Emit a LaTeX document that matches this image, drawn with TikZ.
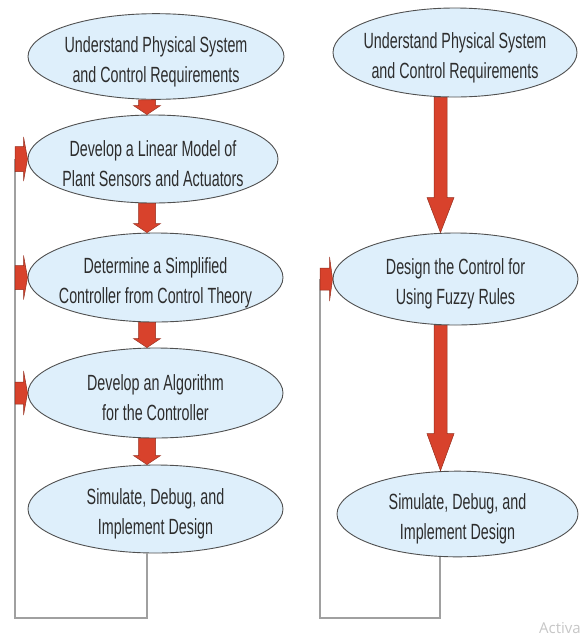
\documentclass[tikz,border=0pt]{standalone}
\usepackage{fontspec}
\setmainfont{Liberation Sans}[FakeStretch=0.65]
\newfontfamily\wmfont{Open Sans}
\usetikzlibrary{shapes.geometric,calc}
\definecolor{ellfill}{RGB}{222,239,251}
\definecolor{ellline}{RGB}{80,80,80}
\definecolor{arrred}{RGB}{216,66,44}
\definecolor{arrdark}{RGB}{150,45,28}
\definecolor{loopgray}{RGB}{160,160,160}
\definecolor{txtgray}{RGB}{45,45,45}
\newcommand{\twol}[2]{\makebox[0pt]{\rule{0pt}{26pt}#1}\\\makebox[0pt]{#2}}
% vertical block arrow: start, tip, shaft half width, head half width, head length
\newcommand{\dnblk}[5]{%
  \filldraw[blk] let \p1=(#1), \p2=(#2) in
    (\x1-#3,\y1) -- (\x1+#3,\y1) -- (\x1+#3,\y2+#5) -- (\x1+#4,\y2+#5) --
    (\x1,\y2) -- (\x1-#4,\y2+#5) -- (\x1-#3,\y2+#5) -- cycle;}
% horizontal block arrow: start, tip, shaft half height, head half height, head length
\newcommand{\rtblk}[5]{%
  \filldraw[blk] let \p1=(#1), \p2=(#2) in
    (\x1,\y2+#3) -- (\x2-#5,\y2+#3) -- (\x2-#5,\y2+#4) -- (\x2,\y2) --
    (\x2-#5,\y2-#4) -- (\x2-#5,\y2-#3) -- (\x1,\y2-#3) -- cycle;}
\begin{document}
\begin{tikzpicture}[x=1pt,y=1pt,
  ellbox/.style={ellipse, draw=ellline, fill=ellfill, line width=0.9pt,
    inner sep=0pt, align=center, text=txtgray,
    font=\fontsize{22}{30}\selectfont},
  blk/.style={fill=arrred, draw=arrdark, line width=0.5pt},
  loopline/.style={draw=loopgray, line width=1.4pt}]
\path[use as bounding box] (0,0) rectangle (582,-638);
\clip (0,0) rectangle (582,-638);
\fill[white] (0,0) rectangle (582,-638);

% left column
\node[ellbox, minimum width=256pt, minimum height=78pt] (e1) at (156,-56.5)
  {\twol{Understand Physical System}{and Control Requirements}};
\node[ellbox, minimum width=250pt, minimum height=88pt] (e2) at (153,-159)
  {\twol{Develop a Linear Model of}{Plant Sensors and Actuators}};
\node[ellbox, minimum width=255pt, minimum height=89pt] (e3) at (155.5,-277.5)
  {\twol{Determine a Simplified}{Controller from Control Theory}};
\node[ellbox, minimum width=255pt, minimum height=90pt] (e4) at (155.5,-393)
  {\twol{Develop an Algorithm}{for the Controller}};
\node[ellbox, minimum width=255pt, minimum height=88pt] (e5) at (155.5,-509)
  {\twol{Simulate, Debug, and}{Implement Design}};

% right column
\node[ellbox, minimum width=244pt, minimum height=89pt] (e6) at (455,-52.5)
  {\twol{Understand Physical System}{and Control Requirements}};
\node[ellbox, minimum width=245pt, minimum height=92pt] (e7) at (455.5,-279)
  {\twol{Design the Control for}{Using Fuzzy Rules}};
\node[ellbox, minimum width=241pt, minimum height=78pt] (e8) at (457.5,-514)
  {\twol{Simulate, Debug, and}{Implement Design}};

% loop corners
\coordinate (LL) at (15,-618);
\coordinate (RR) at (320,-618);

% feedback loops
\draw[loopline] ($(e5.south)+(-8.5,0)$) |- (LL) -- (e2.west -| LL);
\draw[loopline] ($(e8.south)+(-17.5,0)$) |- (RR) -- (e7.west -| RR);

% left column arrows
\dnblk{$(e1.south)+(-9,0)$}{$(e2.north)+(-6,0)$}{8.5pt}{13.5pt}{9pt}
\dnblk{$(e2.south)+(-6,0)$}{$(e3.north)+(-8.5,0)$}{8.5pt}{13.5pt}{9pt}
\dnblk{$(e3.south)+(-8.5,0)$}{$(e4.north)+(-8.5,0)$}{8.5pt}{13.5pt}{9pt}
\dnblk{$(e4.south)+(-8.5,0)$}{$(e5.north)+(-8.5,0)$}{8.5pt}{13.5pt}{9pt}

% right column arrows
\dnblk{$(e6.south)+(-14.5,0)$}{$(e7.north)+(-15,0)$}{6.5pt}{13.5pt}{35pt}
\dnblk{$(e7.south)+(-15,0)$}{$(e8.north)+(-17,0)$}{6.5pt}{13.5pt}{37pt}

% side feedback arrows
\rtblk{e2.west -| LL}{e2.west}{12.5pt}{22pt}{4pt}
\rtblk{e3.west -| LL}{e3.west}{12pt}{22pt}{4pt}
\rtblk{e4.west -| LL}{e4.west}{11pt}{22pt}{4pt}
\rtblk{e7.west -| RR}{e7.west}{11pt}{22pt}{3pt}

% watermark text
\node[anchor=base east, inner sep=0pt, text=black!22, font=\wmfont\fontsize{15}{18}\selectfont] (wm) at (581,-633) {Activa};
\end{tikzpicture}
\end{document}
